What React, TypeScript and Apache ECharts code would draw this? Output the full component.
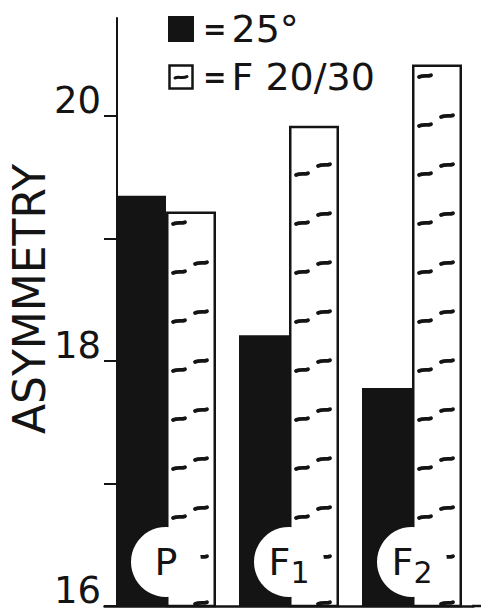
import React, { useEffect, useRef } from "react";
import * as echarts from "echarts";

const categories = ["P", "F1", "F2"];
const categoryLabels = ["P", "F{sub|1}", "F{sub|2}"];
const series25 = [19.35, 18.21, 17.78];
const seriesF = [19.22, 19.92, 20.42];
const yTicks = [16, 17, 18, 19, 20];
const yLabels = [16, 18, 20];
const seriesNames = ["25°", "F 20/30"];
const yTitle = "ASYMMETRY";

const INK = "#141414";
const FONT = "DejaVu Sans";

const hatchIcon =
  "image://data:image/svg+xml;utf8," +
  encodeURIComponent(
    "<svg xmlns='http://www.w3.org/2000/svg' width='26' height='26'><rect x='1.5' y='1.5' width='23' height='23' fill='white' stroke='#141414' stroke-width='2.5'/><path d='M7 14 C10 12,15 15,19 12.5' stroke='#141414' stroke-width='3' fill='none' stroke-linecap='round'/></svg>"
  );

function dash(x: number, y: number) {
  return {
    type: "bezierCurve",
    shape: {
      x1: x,
      y1: y + 1,
      cpx1: x + 4,
      cpy1: y - 1,
      cpx2: x + 9,
      cpy2: y + 0.8,
      x2: x + 12,
      y2: y - 0.8,
    },
    style: { stroke: INK, lineWidth: 3.8, fill: null, lineCap: "round" },
  };
}

export default function App() {
  const ref = useRef<HTMLDivElement>(null);
  useEffect(() => {
    document.body.style.margin = "0";
    const chart = echarts.init(ref.current!, null, { renderer: "svg" });
    const axisBase = {
      type: "value",
      min: 16,
      max: 20.8,
      interval: 1,
      offset: -12.5,
      splitLine: { show: false },
    };
    chart.setOption({
      animation: false,
      backgroundColor: "#fff",
      grid: { left: 104.5, top: 18, width: 369, bottom: 6, outerBoundsMode: "none", containLabel: false },
      legend: {
        orient: "vertical",
        left: 163,
        top: 5,
        itemWidth: 26,
        itemHeight: 26,
        itemGap: 10,
        selectedMode: false,
        data: [
          { name: seriesNames[0], icon: "rect" },
          { name: seriesNames[1], icon: hatchIcon },
        ],
        formatter: (name: string) => `{eq|=}{t|${name}}`,
        textStyle: {
          fontFamily: FONT,
          color: INK,
          rich: {
            eq: { fontSize: 28, fontWeight: "bold", fontFamily: FONT, color: INK, lineHeight: 40, padding: [0, 5, 0, 4] },
            t: { fontSize: 38, fontFamily: FONT, color: INK, lineHeight: 40 },
          },
        },
      },
      xAxis: {
        type: "category",
        data: categories,
        axisLine: { lineStyle: { color: INK, width: 2.5 } },
        axisTick: { show: false },
        axisLabel: { show: false },
      },
      yAxis: [
        {
          ...axisBase,
          axisLine: { show: true, lineStyle: { color: INK, width: 2 } },
          axisTick: {
            show: true,
            length: 13,
            customValues: yTicks,
            lineStyle: { color: INK, width: 2 },
          },
          axisLabel: {
            customValues: yLabels,
            fontSize: 37,
            fontFamily: FONT,
            color: INK,
            margin: 16,
            verticalAlign: "bottom",
            lineHeight: 31,
          },
        },
        {
          ...axisBase,
          axisLine: { show: false },
          axisTick: {
            show: true,
            inside: true,
            length: 13,
            customValues: yTicks,
            lineStyle: { color: INK, width: 2 },
          },
          axisLabel: { show: false },
        },
      ],
      series: [
        {
          name: seriesNames[0],
          type: "bar",
          data: series25,
          barWidth: 50,
          barGap: "0%",
          itemStyle: { color: INK },
        },
        {
          name: seriesNames[1],
          type: "bar",
          data: seriesF,
          barWidth: 50,
          barGap: "0%",
          itemStyle: { color: "#fff", borderColor: INK, borderWidth: 2.5 },
        },
        {
          type: "custom",
          z: 3,
          data: seriesF.map((v, i) => [i, v]),
          renderItem: (params: any, api: any) => {
            const i = api.value(0);
            const v = api.value(1);
            const top = api.coord([i, v]);
            const base = api.coord([i, 16]);
            const cx = top[0];
            const children: any[] = [];
            for (let k = -2; k < 14; k++) {
              const ly = base[1] - 89 - 49 * k;
              const ry = ly - 9;
              if (ly > top[1] + 6 && ly < base[1] - 2) children.push(dash(cx + 7, ly));
              if (ry > top[1] + 6 && ry <= base[1]) children.push(dash(cx + 29, Math.min(ry, base[1] - 3)));
            }
            return { type: "group", children };
          },
        },
        {
          type: "scatter",
          z: 5,
          symbol: "circle",
          symbolSize: 70,
          data: categories.map((c, i) => [i, 16.36]),
          itemStyle: { color: "#fff", opacity: 1 },
          emphasis: { disabled: true },
          label: {
            show: true,
            position: "inside",
            formatter: (p: any) => categoryLabels[p.dataIndex],
            fontSize: 38,
            fontFamily: FONT,
            color: INK,
            rich: {
              sub: { fontSize: 30, fontFamily: FONT, color: INK, padding: [22, 0, 0, 0] },
            },
          },
        },
      ],
      graphic: [
        {
          type: "line",
          shape: { x1: 472, y1: 606, x2: 481, y2: 606 },
          style: { stroke: INK, lineWidth: 2.5 },
        },
        {
          type: "text",
          x: 29,
          y: 299,
          rotation: Math.PI / 2,
          style: {
            text: yTitle,
            fontSize: 44,
            fontFamily: FONT,
            fill: INK,
            align: "center",
            verticalAlign: "middle",
          },
        },
      ],
    });
    return () => chart.dispose();
  }, []);
  return <div ref={ref} style={{ width: 481, height: 612 }} />;
}
